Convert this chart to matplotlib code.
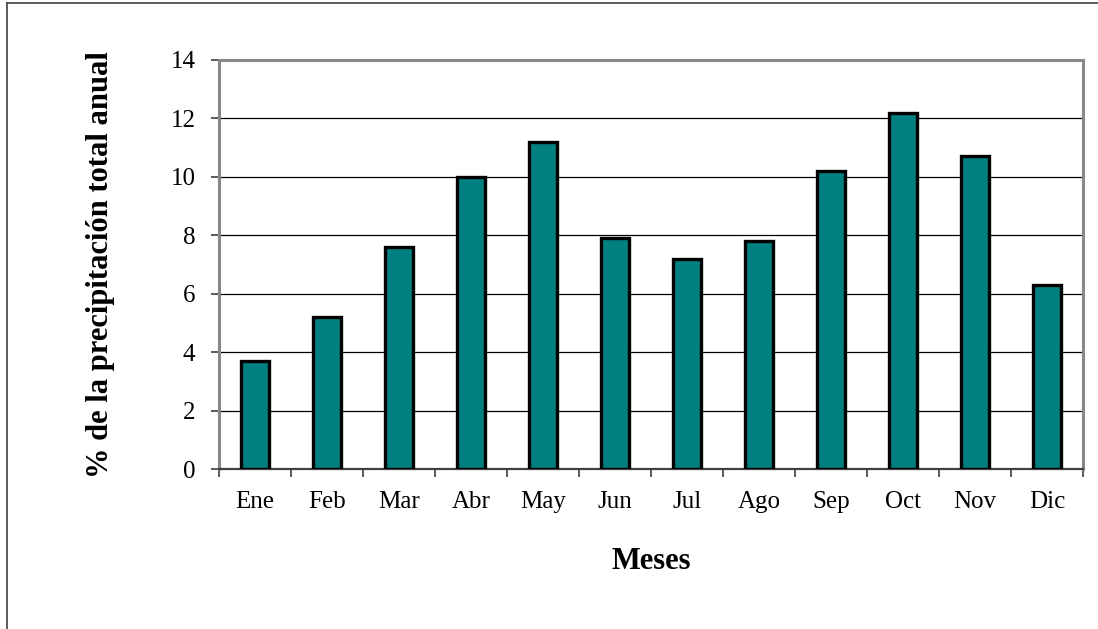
import matplotlib
matplotlib.use("Agg")
import matplotlib.pyplot as plt
from matplotlib.lines import Line2D
import numpy as np

meses = ["Ene", "Feb", "Mar", "Abr", "May", "Jun", "Jul", "Ago", "Sep", "Oct", "Nov", "Dic"]
porcentaje = [3.7, 5.2, 7.6, 10.0, 11.2, 7.9, 7.2, 7.8, 10.2, 12.2, 10.7, 6.3]
y_ticks = [0, 2, 4, 6, 8, 10, 12, 14]

plt.rcParams["font.family"] = ["Liberation Serif", "DejaVu Serif"]

fig = plt.figure(figsize=(10.98, 6.29), dpi=100)
ax = fig.add_axes([219 / 1098, 1 - 469 / 629, (1083 - 219) / 1098, (469 - 60) / 629])

x = np.arange(len(meses))
ax.bar(x, porcentaje, width=0.4, color="#008080", edgecolor="black",
       linewidth=2.4, zorder=3)

ax.set_xlim(-0.5, len(meses) - 0.5)
ax.set_ylim(0, 14)
ax.set_yticks(y_ticks)
ax.set_yticklabels([str(v) for v in y_ticks])
ax.yaxis.grid(True, color="black", linewidth=0.9, zorder=1)
ax.set_axisbelow(True)

# category labels centred on bars, tick marks on category boundaries
ax.set_xticks(x)
ax.set_xticklabels(meses)
ax.set_xticks(np.arange(-0.5, len(meses)), minor=True)
ax.tick_params(axis="x", which="major", length=0, pad=16, labelsize=18)
ax.tick_params(axis="x", which="minor", length=6, width=1.2, color="#404040",
               direction="out")
ax.tick_params(axis="y", length=6, width=1.2, color="#404040", pad=11,
               labelsize=18, direction="out")

for side in ["left", "top", "right"]:
    ax.spines[side].set_color("#888888")
    ax.spines[side].set_linewidth(2.2)
ax.spines["bottom"].set_color("#404040")
ax.spines["bottom"].set_linewidth(1.6)

ax.set_ylabel("% de la precipitación total anual", fontsize=22,
              fontweight="bold", labelpad=40)
ax.set_xlabel("Meses", fontsize=22, fontweight="bold", labelpad=24)

# outer chart border (top and left edges)
fig.add_artist(Line2D([7 / 1098, 1.0], [1 - 3 / 629, 1 - 3 / 629],
                      transform=fig.transFigure, color="#404040", linewidth=1.2))
fig.add_artist(Line2D([7 / 1098, 7 / 1098], [0.0, 1 - 3 / 629],
                      transform=fig.transFigure, color="#404040", linewidth=1.2))

fig.savefig("out.png", dpi=100, facecolor="white")
